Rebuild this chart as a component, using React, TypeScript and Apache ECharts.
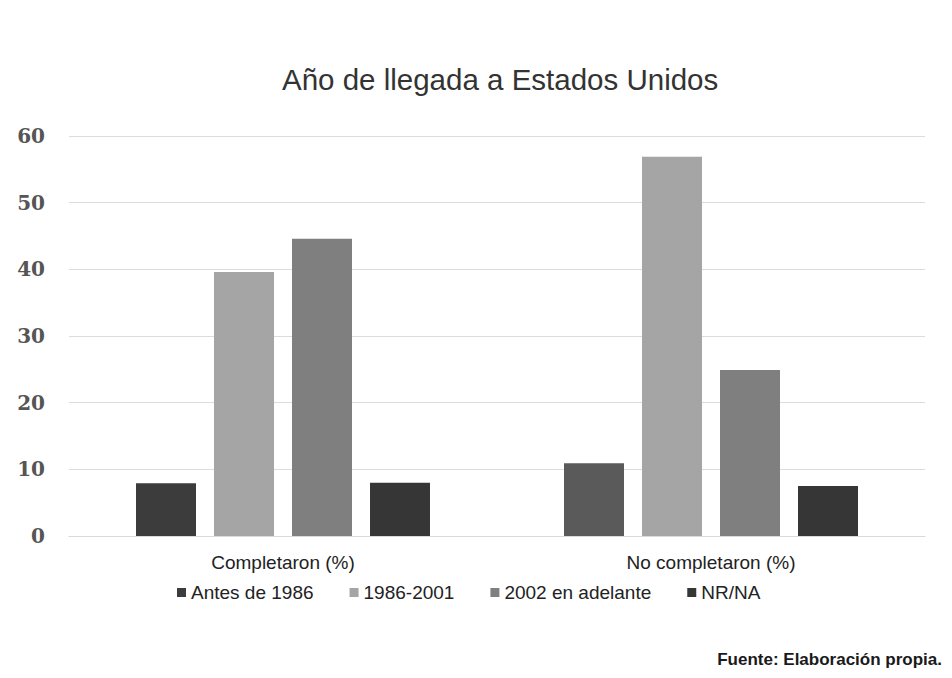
import React, { useEffect, useRef } from "react";
import * as echarts from "echarts";

const categories = ["Completaron (%)", "No completaron (%)"];
const seriesNames = ["Antes de 1986", "1986-2001", "2002 en adelante", "NR/NA"];
const antes1986 = [7.9, 10.9];
const de1986a2001 = [39.6, 56.9];
const desde2002 = [44.6, 24.9];
const nrna = [8.0, 7.5];
const seriesColors = ["#3c3c3c", "#a5a5a5", "#7f7f7f", "#363636"];
const antesItemColors = ["#3c3c3c", "#5a5a5a"];
const yTicks = [0, 10, 20, 30, 40, 50, 60];

const SANS = "'Liberation Sans Narrow', 'Arial Narrow', 'Liberation Sans', sans-serif";

export default function App() {
  const ref = useRef<HTMLDivElement>(null);
  useEffect(() => {
    if (!ref.current) return;
    const chart = echarts.init(ref.current, undefined, { renderer: "svg" });
    const values = [antes1986, de1986a2001, desde2002, nrna];
    chart.setOption({
      animation: false,
      backgroundColor: "#ffffff",
      title: {
        text: "Año de llegada a Estados Unidos",
        left: 277,
        top: 59,
        textStyle: { fontFamily: SANS, fontSize: 29.5, fontWeight: "normal", color: "#333333" },
      },
      grid: { left: 69, right: 27, top: 136, bottom: 142, containLabel: false },
      legend: {
        data: seriesNames,
        bottom: 71,
        left: 172,
        icon: "rect",
        itemWidth: 9,
        itemHeight: 9,
        itemGap: 36,
        textStyle: { fontFamily: SANS, fontSize: 19, color: "#222222", padding: [0, 0, 0, 0] },
      },
      xAxis: {
        type: "category",
        data: categories,
        axisLine: { show: true, lineStyle: { color: "#d9d9d9" } },
        axisTick: { show: false },
        axisLabel: { fontFamily: SANS, fontSize: 19, color: "#222222", margin: 17 },
      },
      yAxis: {
        type: "value",
        min: yTicks[0],
        max: yTicks[yTicks.length - 1],
        interval: 10,
        axisLine: { show: false },
        axisTick: { show: false },
        splitLine: { lineStyle: { color: "#dcdcdc", width: 1 } },
        axisLabel: {
          fontFamily: "'DejaVu Serif', 'Liberation Serif', serif",
          fontWeight: "bold",
          fontSize: 20,
          color: "#555555",
          margin: 24,
        },
      },
      series: seriesNames.map((name, i) => ({
        name,
        type: "bar",
        barWidth: 60,
        barGap: "30%",
        itemStyle: { color: seriesColors[i] },
        data:
          i === 0
            ? values[i].map((v, j) => ({ value: v, itemStyle: { color: antesItemColors[j] } }))
            : values[i],
      })),
      graphic: [
        {
          type: "text",
          right: 10,
          top: 651,
          style: {
            text: "Fuente: Elaboración propia.",
            fontFamily: SANS,
            fontSize: 17,
            fontWeight: "bold",
            fill: "#1a1a1a",
          },
        },
      ],
    });
    return () => chart.dispose();
  }, []);
  return <div ref={ref} style={{ width: 952, height: 678, position: "absolute", left: 0, top: 0 }} />;
}
